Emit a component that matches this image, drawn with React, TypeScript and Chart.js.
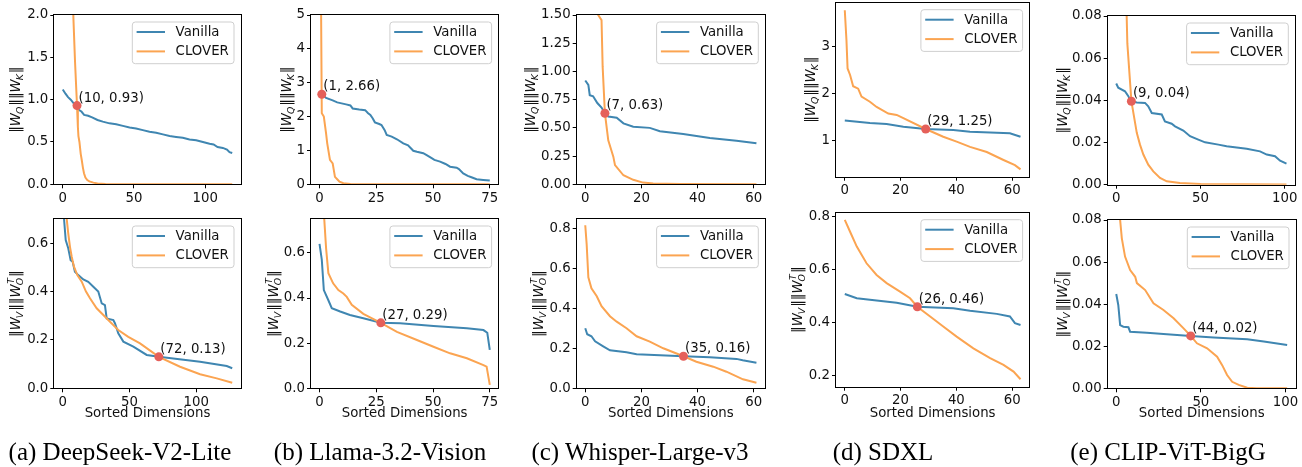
import React, { useEffect, useRef } from "react";
import { Chart, registerables } from "chart.js";

Chart.register(...registerables);

type Pt = [number, number];

// ---------------- data (x = sorted dimension index, y = norm product) ----------------
// (a) DeepSeek-V2-Lite
const aTopVanilla: Pt[] = [[0,1.12],[1.9,1.07],[3.7,1.03],[5.6,1.0],[7.5,0.96],[10,0.93],[11.2,0.88],[13.1,0.86],[15,0.82],[17.8,0.81],[20.6,0.79],[24.4,0.76],[28.1,0.74],[32.8,0.72],[37.5,0.71],[42.2,0.69],[46.9,0.67],[51.5,0.66],[56.2,0.64],[60.9,0.62],[65.6,0.61],[70.3,0.59],[75,0.57],[79.6,0.56],[84.3,0.55],[89,0.53],[93.7,0.52],[98.4,0.5],[103.1,0.48],[105.9,0.47],[108.7,0.44],[112.4,0.43],[115.3,0.41],[117.1,0.38],[119,0.37]];
const aTopClover: Pt[] = [[0,8],[3.7,4.2],[6.6,2.5],[7.5,1.95],[8.6,1.45],[10,0.93],[10.6,0.68],[11,0.57],[11.7,0.5],[12.6,0.36],[13.3,0.29],[14.1,0.2],[14.9,0.13],[15.9,0.08],[17.2,0.05],[18.7,0.035],[21.5,0.02],[24.4,0.01],[30,0.004],[46.9,0.002],[119,0.001]];
const aTopCross: Pt = [10, 0.93];
const aBotVanilla: Pt[] = [[0,0.95],[0.9,0.703],[2.2,0.613],[4.1,0.579],[5.9,0.53],[7.4,0.523],[9.1,0.482],[11.6,0.468],[15.4,0.45],[19.1,0.44],[22.9,0.42],[26.6,0.4],[29.2,0.351],[31.6,0.344],[32.9,0.289],[37.9,0.282],[39.1,0.269],[41.6,0.227],[45.4,0.193],[52.9,0.172],[62.9,0.138],[72,0.13],[102.9,0.11],[122.9,0.092],[127,0.083]];
const aBotClover: Pt[] = [[0,1.0],[1.5,0.82],[2.9,0.703],[4.1,0.641],[5.4,0.585],[6.7,0.544],[8.4,0.503],[10.9,0.468],[14.2,0.441],[17.4,0.4],[20.4,0.372],[25.4,0.331],[30.4,0.303],[35.4,0.275],[41.6,0.241],[49.1,0.213],[57.9,0.186],[72,0.13],[87.9,0.089],[102.9,0.058],[115.4,0.041],[127,0.023]];
const aBotCross: Pt = [72, 0.13];

// (b) Llama-3.2-Vision
const bTopVanilla: Pt[] = [[0,2.75],[1,2.66],[2.9,2.55],[5.8,2.48],[7.8,2.42],[11.7,2.36],[13.6,2.33],[14.6,2.24],[17.5,2.21],[20.1,2.19],[21.4,2.1],[22.4,2.05],[23.4,1.95],[24.4,1.83],[26.3,1.78],[27.3,1.75],[28.7,1.6],[29.6,1.46],[31.8,1.41],[34.1,1.33],[36.9,1.21],[39,1.15],[41.3,0.99],[42.9,0.96],[45.7,0.92],[47.2,0.86],[49.4,0.77],[50.6,0.72],[53.1,0.67],[55.5,0.6],[57.5,0.52],[60.4,0.49],[61.4,0.45],[63.3,0.32],[65.3,0.25],[67.2,0.2],[69.2,0.15],[72.1,0.13],[75,0.11]];
const bTopClover: Pt[] = [[0,12],[1,2.1],[1.9,2.0],[2.9,1.5],[3.4,1.21],[4.6,0.72],[5.8,0.62],[6.8,0.22],[7.8,0.15],[8.8,0.08],[10.5,0.03],[13.6,0.01],[75,0.005]];
const bTopCross: Pt = [1, 2.66];
const bBotVanilla: Pt[] = [[0,0.64],[1,0.57],[1.9,0.435],[3.9,0.39],[5.4,0.355],[9.1,0.34],[13.4,0.325],[19.3,0.31],[27,0.29],[35.5,0.288],[50.2,0.276],[64.9,0.266],[72.2,0.258],[73.9,0.246],[75,0.17]];
const bBotClover: Pt[] = [[0,1.3],[1,1.0],[1.9,0.78],[2.9,0.62],[3.9,0.51],[6,0.465],[8.3,0.435],[10.5,0.42],[12,0.405],[14.2,0.37],[19.3,0.33],[27,0.29],[34.1,0.25],[42.9,0.214],[50.2,0.184],[57.5,0.155],[64.9,0.133],[72.2,0.103],[73.6,0.096],[75,0.015]];
const bBotCross: Pt = [27, 0.29];

// (c) Whisper-Large-v3
const cTopVanilla: Pt[] = [[0,0.92],[1.1,0.88],[1.6,0.79],[2.8,0.78],[4.3,0.72],[5.8,0.68],[7,0.63],[8.2,0.6],[11.2,0.59],[13.6,0.54],[17.1,0.51],[23,0.5],[26.6,0.47],[34.9,0.445],[42,0.42],[44.4,0.41],[53.9,0.386],[61,0.363]];
const cTopClover: Pt[] = [[0,3.0],[2.9,2.0],[4.6,1.5],[5.8,1.455],[6.2,1.04],[7,0.63],[8.2,0.39],[10,0.245],[10.6,0.17],[13.6,0.08],[17.1,0.04],[20.6,0.015],[24.2,0.007],[33.9,0.003],[61,0.001]];
const cTopCross: Pt = [7, 0.63];
const cBotVanilla: Pt[] = [[0,0.3],[0.7,0.27],[2.2,0.26],[3.5,0.235],[6.4,0.21],[8.8,0.19],[14.7,0.18],[18.3,0.17],[35,0.16],[44.4,0.155],[53.9,0.147],[56.1,0.14],[61,0.128]];
const cBotClover: Pt[] = [[0,0.815],[0.5,0.72],[1.1,0.555],[2.2,0.5],[4.1,0.46],[5.8,0.41],[8.8,0.36],[11.2,0.333],[14.7,0.3],[18.3,0.26],[23,0.233],[27.8,0.2],[35,0.16],[39.6,0.133],[45.6,0.108],[50.3,0.083],[56.2,0.045],[61,0.028]];
const cBotCross: Pt = [35, 0.16];

// (d) SDXL
const dTopVanilla: Pt[] = [[0,1.43],[9,1.38],[15,1.355],[21,1.3],[29,1.25],[38.9,1.23],[44.9,1.19],[54.5,1.17],[59.2,1.16],[63,1.085]];
const dTopClover: Pt[] = [[0,3.78],[0.6,3.14],[1,2.54],[1.9,2.4],[3,2.16],[4.8,2.11],[6,1.94],[9,1.83],[11.4,1.72],[15.6,1.58],[18.6,1.55],[21,1.48],[29,1.25],[35.3,1.085],[40.1,0.98],[44.9,0.87],[50.9,0.76],[56.9,0.59],[61,0.48],[63,0.39]];
const dTopCross: Pt = [29, 1.25];
const dBotVanilla: Pt[] = [[0,0.508],[4.3,0.492],[9,0.486],[18.6,0.475],[26,0.46],[38.9,0.454],[44.9,0.445],[54.5,0.433],[59.2,0.423],[61,0.398],[63,0.391]];
const dBotClover: Pt[] = [[0,0.788],[1.9,0.743],[4.3,0.687],[7.8,0.624],[11.4,0.58],[15,0.549],[19.8,0.517],[23.4,0.492],[26,0.46],[30.6,0.423],[35.3,0.385],[40.1,0.347],[46.1,0.303],[52.1,0.266],[56.9,0.24],[60.5,0.215],[63,0.186]];
const dBotCross: Pt = [26, 0.46];

// (e) CLIP-ViT-BigG
const eTopVanilla: Pt[] = [[0,0.048],[1.2,0.046],[5.2,0.0443],[7.2,0.042],[8.2,0.0403],[9,0.0396],[12.2,0.039],[17.1,0.0388],[19,0.0372],[21.1,0.034],[27,0.0333],[28.9,0.03],[32.9,0.0289],[34.9,0.0277],[39.8,0.0257],[43.8,0.023],[48.7,0.0214],[52.7,0.0201],[60.6,0.019],[65.5,0.0182],[77.4,0.017],[85.3,0.0158],[89.3,0.0143],[94.2,0.0135],[97.2,0.0114],[101,0.01]];
const eTopClover: Pt[] = [[0,0.3],[3,0.15],[5,0.1],[6.2,0.08],[6.6,0.067],[9,0.0396],[12.2,0.0246],[14.1,0.019],[16.1,0.0143],[19,0.0095],[22,0.0063],[26,0.0032],[30,0.0016],[37.8,0.0008],[50,0.0003],[101,0.0001]];
const eTopCross: Pt = [9, 0.0396];
const eBotVanilla: Pt[] = [[0,0.0448],[1.2,0.0396],[2.3,0.03],[4.2,0.0293],[7.2,0.029],[8.2,0.0269],[18.1,0.0264],[27.9,0.0258],[44,0.0249],[57.6,0.0242],[77.4,0.0233],[87.2,0.0222],[101,0.0206]];
const eBotClover: Pt[] = [[0,0.15],[1,0.11],[2.3,0.08],[3.3,0.0713],[5.2,0.0626],[8.2,0.0562],[11.2,0.053],[12.2,0.05],[17.1,0.0467],[22,0.0404],[27.9,0.0372],[33.9,0.0333],[39.8,0.0285],[44,0.0249],[47.7,0.0214],[53.7,0.019],[59.6,0.015],[62.6,0.011],[65.5,0.0063],[68.5,0.0031],[72.4,0.0016],[77.4,0.0003],[83,0],[101,0]];
const eBotCross: Pt = [44, 0.0249];

// tick values
const xTicksA = [0, 50, 100];
const xTicksB = [0, 25, 50, 75];
const xTicksCD = [0, 20, 40, 60];
const xTicksE = [0, 50, 100];
const yTicksATop = [0, 0.5, 1.0, 1.5, 2.0];
const yTicksABot = [0, 0.2, 0.4, 0.6];
const yTicksBTop = [0, 1, 2, 3, 4, 5];
const yTicksBBot = [0, 0.2, 0.4, 0.6];
const yTicksCTop = [0, 0.25, 0.5, 0.75, 1.0, 1.25, 1.5];
const yTicksCBot = [0, 0.2, 0.4, 0.6, 0.8];
const yTicksDTop = [1, 2, 3];
const yTicksDBot = [0.2, 0.4, 0.6, 0.8];
const yTicksE = [0, 0.02, 0.04, 0.06, 0.08];

const seriesLabels = ["Vanilla", "CLOVER"];
const xTitle = "Sorted Dimensions";
const captions = ["(a) DeepSeek-V2-Lite", "(b) Llama-3.2-Vision", "(c) Whisper-Large-v3", "(d) SDXL", "(e) CLIP-ViT-BigG"];

// ---------------- styling / layout ----------------
const FONT = '"DejaVu Sans", sans-serif';
const FS = 13.3;
const BLUE = "#3f86b1";
const ORANGE = "#fba451";
const RED = "#e5605a";
const TEXT = "#111";
const CAPTION_X = [120, 380, 640, 883, 1168];

type Kind = "QK" | "VO";
interface Spec {
  van: Pt[]; clv: Pt[]; cross: Pt;
  xRange: [number, number]; xTicks: number[];
  yRange: [number, number]; yTicks: number[]; yDec: number;
  kind: Kind; frame: [number, number, number, number]; labelX: number; bottomRow: boolean;
}

const SPECS: Spec[] = [
  { van: aTopVanilla, clv: aTopClover, cross: aTopCross, xRange: [-5.95, 124.95], xTicks: xTicksA, yRange: [0, 2], yTicks: yTicksATop, yDec: 1, kind: "QK", frame: [54.3, 15, 240.7, 184.3], labelX: 16.3, bottomRow: false },
  { van: aBotVanilla, clv: aBotClover, cross: aBotCross, xRange: [-6.35, 133.35], xTicks: xTicksA, yRange: [0, 0.7], yTicks: yTicksABot, yDec: 1, kind: "VO", frame: [54.3, 219, 240.7, 388.3], labelX: 16.7, bottomRow: true },
  { van: bTopVanilla, clv: bTopClover, cross: bTopCross, xRange: [-3.75, 78.75], xTicks: xTicksB, yRange: [0, 5], yTicks: yTicksBTop, yDec: 0, kind: "QK", frame: [311, 15, 498.3, 184.3], labelX: 288, bottomRow: false },
  { van: bBotVanilla, clv: bBotClover, cross: bBotCross, xRange: [-3.75, 78.75], xTicks: xTicksB, yRange: [0, 0.75], yTicks: yTicksBBot, yDec: 1, kind: "VO", frame: [311, 219, 498.3, 388.3], labelX: 275, bottomRow: true },
  { van: cTopVanilla, clv: cTopClover, cross: cTopCross, xRange: [-3.05, 64.05], xTicks: xTicksCD, yRange: [0, 1.5], yTicks: yTicksCTop, yDec: 2, kind: "QK", frame: [576.7, 15, 765, 184.3], labelX: 531.7, bottomRow: false },
  { van: cBotVanilla, clv: cBotClover, cross: cBotCross, xRange: [-3.05, 64.05], xTicks: xTicksCD, yRange: [0, 0.846], yTicks: yTicksCBot, yDec: 1, kind: "VO", frame: [576.7, 219, 765, 388.3], labelX: 540, bottomRow: true },
  { van: dTopVanilla, clv: dTopClover, cross: dTopCross, xRange: [-3.15, 66.15], xTicks: xTicksCD, yRange: [0.234, 3.94], yTicks: yTicksDTop, yDec: 0, kind: "QK", frame: [836, 2.7, 1029.3, 176.7], labelX: 812, bottomRow: false },
  { van: dBotVanilla, clv: dBotClover, cross: dBotCross, xRange: [-3.15, 66.15], xTicks: xTicksCD, yRange: [0.158, 0.815], yTicks: yTicksDBot, yDec: 1, kind: "VO", frame: [836, 212.7, 1029.3, 386.7], labelX: 799, bottomRow: true },
  { van: eTopVanilla, clv: eTopClover, cross: eTopCross, xRange: [-5.05, 106.05], xTicks: xTicksE, yRange: [0, 0.08], yTicks: yTicksE, yDec: 2, kind: "QK", frame: [1107.7, 16, 1295, 184.7], labelX: 1064, bottomRow: false },
  { van: eBotVanilla, clv: eBotClover, cross: eBotCross, xRange: [-5.05, 106.05], xTicks: xTicksE, yRange: [0, 0.08], yTicks: yTicksE, yDec: 2, kind: "VO", frame: [1107.7, 220, 1295.7, 388.3], labelX: 1064, bottomRow: true },
];

type Seg = { t: string; it: boolean; sub?: boolean; sup?: string };
const SEGS: Record<Kind, Seg[]> = {
  QK: [{ t: "\u2016", it: false }, { t: "W", it: true }, { t: "Q", it: true, sub: true }, { t: "\u2016\u2016", it: false }, { t: "W", it: true }, { t: "K", it: true, sub: true }, { t: "\u2016", it: false }],
  VO: [{ t: "\u2016", it: false }, { t: "W", it: true }, { t: "V", it: true, sub: true }, { t: "\u2016\u2016", it: false }, { t: "W", it: true }, { t: "O", it: true, sub: true, sup: "T" }, { t: "\u2016", it: false }],
};

function drawMathLabel(ctx: CanvasRenderingContext2D, kind: Kind, cx: number, cy: number) {
  const segs = SEGS[kind];
  const small = FS * 0.7;
  const fontOf = (it: boolean, size: number) => `${it ? "italic " : ""}${size}px ${FONT}`;
  const widths = segs.map((s) => {
    ctx.font = fontOf(s.it, s.sub ? small : FS);
    let w = ctx.measureText(s.t).width;
    if (s.sup) { ctx.font = fontOf(true, small); w = Math.max(w, ctx.measureText(s.sup).width); }
    return w;
  });
  const total = widths.reduce((a, b) => a + b, 0);
  ctx.save();
  ctx.translate(cx, cy);
  ctx.rotate(-Math.PI / 2);
  ctx.fillStyle = TEXT;
  ctx.textAlign = "left";
  ctx.textBaseline = "alphabetic";
  const base = 0.26 * FS;
  let x = -total / 2;
  segs.forEach((s, i) => {
    ctx.font = fontOf(s.it, s.sub ? small : FS);
    ctx.fillText(s.t, x - (s.sub ? 1 : 0), base + (s.sub ? 0.22 * FS : 0));
    if (s.sup) { ctx.font = fontOf(true, small); ctx.fillText(s.sup, x + 0.5, base - 0.45 * FS); }
    x += widths[i];
  });
  ctx.restore();
}

function makeDecor(s: Spec, cl: number, ct: number) {
  const [, T, , B] = s.frame;
  return {
    id: "decor",
    afterDatasetsDraw(chart: any) {
      const { ctx, chartArea: a, scales } = chart;
      const px = scales.x.getPixelForValue(s.cross[0]);
      const py = scales.y.getPixelForValue(s.cross[1]);
      ctx.save();
      ctx.font = `${FS}px ${FONT}`;
      ctx.fillStyle = TEXT;
      ctx.textAlign = "left";
      ctx.textBaseline = "alphabetic";
      ctx.fillText(`(${s.cross[0]}, ${s.cross[1].toFixed(2)})`, px + 1.5, py - 4);
      // legend box
      const bw = 101.7, bh = 41.7, r = 3;
      const bx = a.right - 6.7 - bw, by = a.top + 7;
      ctx.beginPath();
      ctx.moveTo(bx + r, by);
      ctx.lineTo(bx + bw - r, by);
      ctx.arcTo(bx + bw, by, bx + bw, by + r, r);
      ctx.lineTo(bx + bw, by + bh - r);
      ctx.arcTo(bx + bw, by + bh, bx + bw - r, by + bh, r);
      ctx.lineTo(bx + r, by + bh);
      ctx.arcTo(bx, by + bh, bx, by + bh - r, r);
      ctx.lineTo(bx, by + r);
      ctx.arcTo(bx, by, bx + r, by, r);
      ctx.closePath();
      ctx.fillStyle = "rgba(255,255,255,0.8)";
      ctx.fill();
      ctx.strokeStyle = "#cfcfcf";
      ctx.lineWidth = 1;
      ctx.stroke();
      ctx.textBaseline = "middle";
      [0, 1].forEach((i) => {
        const ds = chart.data.datasets[i];
        const yy = by + 10 + i * 19.4;
        ctx.beginPath();
        ctx.moveTo(bx + 4.3, yy);
        ctx.lineTo(bx + 32.7, yy);
        ctx.strokeStyle = ds.borderColor;
        ctx.lineWidth = 2;
        ctx.stroke();
        ctx.fillStyle = TEXT;
        ctx.fillText(ds.label, bx + 43.3, yy + 0.5);
      });
      ctx.restore();
    },
    afterDraw(chart: any) {
      const { ctx, chartArea: a } = chart;
      ctx.save();
      ctx.strokeStyle = "#000";
      ctx.lineWidth = 1;
      const l = Math.round(a.left) - 0.5, t = Math.round(a.top) - 0.5;
      const rr = Math.round(a.right) + 0.5, bb = Math.round(a.bottom) + 0.5;
      ctx.strokeRect(l, t, rr - l, bb - t);
      ctx.restore();
      drawMathLabel(ctx, s.kind, s.labelX - cl, (T + B) / 2 - ct);
    },
  };
}

function Panel({ s }: { s: Spec }) {
  const ref = useRef<HTMLCanvasElement>(null);
  const [L, T, R, B] = s.frame;
  const cl = Math.floor(L) - 62;
  const ct = Math.floor(T) - 12;
  const cr = Math.ceil(R) + 12;
  const cb = Math.ceil(B) + (s.bottomRow ? 40 : 26);
  const w = cr - cl, h = cb - ct;
  useEffect(() => {
    const el = ref.current;
    if (!el) return;
    const font = { family: FONT, size: FS };
    const titlePad = cb - 414 - (FS * 1.2) / 2;
    const chart = new Chart(el, {
      type: "line",
      data: {
        datasets: [
          { label: seriesLabels[0], data: s.van.map(([x, y]) => ({ x, y })), borderColor: BLUE, backgroundColor: BLUE, borderWidth: 2, pointRadius: 0, tension: 0, fill: false, order: 3 },
          { label: seriesLabels[1], data: s.clv.map(([x, y]) => ({ x, y })), borderColor: ORANGE, backgroundColor: ORANGE, borderWidth: 2, pointRadius: 0, tension: 0, fill: false, order: 2 },
          { label: "cross", data: [{ x: s.cross[0], y: s.cross[1] }], showLine: false, pointRadius: 4.5, pointBackgroundColor: RED, pointBorderColor: RED, pointBorderWidth: 0, order: 1 },
        ],
      },
      options: {
        responsive: false,
        animation: false,
        devicePixelRatio: 1,
        events: [],
        layout: { padding: { left: 0, top: T - ct, right: cr - R, bottom: 0 } },
        plugins: { legend: { display: false }, tooltip: { enabled: false } },
        scales: {
          x: {
            type: "linear",
            bounds: "data",
            min: s.xRange[0],
            max: s.xRange[1],
            afterFit: (sc: any) => { sc.height = cb - B; },
            afterBuildTicks: (sc: any) => { sc.ticks = s.xTicks.map((v) => ({ value: v })); },
            ticks: { font, color: TEXT, padding: 2, maxRotation: 0, autoSkip: false, callback: (v: any) => String(v) },
            grid: { display: true, drawOnChartArea: false, drawTicks: true, tickLength: 4, tickColor: "#000", tickWidth: 1 },
            border: { display: false },
            title: { display: s.bottomRow, text: xTitle, font, color: TEXT, padding: { top: 0, bottom: titlePad } },
          },
          y: {
            type: "linear",
            bounds: "data",
            min: s.yRange[0],
            max: s.yRange[1],
            afterFit: (sc: any) => { sc.width = L - cl; },
            afterBuildTicks: (sc: any) => { sc.ticks = s.yTicks.map((v) => ({ value: v })); },
            ticks: { font, color: TEXT, padding: 2, autoSkip: false, callback: (v: any) => Number(v).toFixed(s.yDec) },
            grid: { display: true, drawOnChartArea: false, drawTicks: true, tickLength: 4, tickColor: "#000", tickWidth: 1 },
            border: { display: false },
          },
        },
      } as any,
      plugins: [makeDecor(s, cl, ct)],
    });
    return () => chart.destroy();
  }, []);
  return <canvas ref={ref} width={w} height={h} style={{ position: "absolute", left: cl, top: ct, width: w, height: h }} />;
}

export default function App() {
  return (
    <div style={{ position: "fixed", left: 0, top: 0, width: 1302, height: 467, background: "#fff", overflow: "hidden" }}>
      {SPECS.map((s, i) => (
        <Panel key={i} s={s} />
      ))}
      {captions.map((c, i) => (
        <div
          key={c}
          style={{ position: "absolute", left: CAPTION_X[i] - 160, width: 320, top: 439, textAlign: "center", fontFamily: '"Liberation Serif", serif', fontSize: 25, lineHeight: "25px", color: "#000", whiteSpace: "nowrap" }}
        >
          {c}
        </div>
      ))}
    </div>
  );
}
